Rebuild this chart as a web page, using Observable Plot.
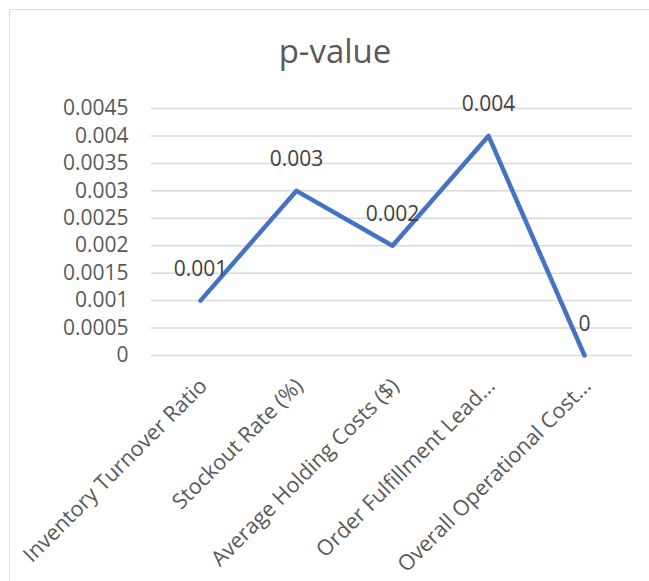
<!DOCTYPE html>
<html>
<head>
<meta charset="utf-8">
<script src="https://cdn.jsdelivr.net/npm/d3@7"></script>
<script src="https://cdn.jsdelivr.net/npm/@observablehq/plot@0.6"></script>
<style>
  html, body { margin: 0; padding: 0; background: #fff; overflow: hidden; }
  #wrap { position: relative; width: 649px; height: 581px; font-family: "Open Sans", sans-serif; }
  #border { position: absolute; left: 9px; top: 9px; width: 660px; height: 600px; border: 1.5px solid #d9d9d9; border-radius: 2px; box-sizing: border-box; }
  #title { position: absolute; left: 0; width: 670px; top: 30px; text-align: center; font-size: 33px; color: #595959; line-height: 42px; }
  #chart { position: absolute; left: 0; top: 0; }
</style>
</head>
<body>
<div id="wrap">
  <div id="border"></div>
  <div id="title">p-value</div>
  <div id="chart"></div>
</div>
<script>
const categories = [
  "Inventory Turnover Ratio",
  "Stockout Rate (%)",
  "Average Holding Costs ($)",
  "Order Fulfillment Lead...",
  "Overall Operational Cost..."
];
const pValues = [0.001, 0.003, 0.002, 0.004, 0];
const yTicks = [0, 0.0005, 0.001, 0.0015, 0.002, 0.0025, 0.003, 0.0035, 0.004, 0.0045];

const data = categories.map((c, i) => ({category: c, value: pValues[i]}));
const fmt = d => d3.format(".4~f")(d);

const chart = Plot.plot({
  width: 649,
  height: 581,
  marginLeft: 151,
  marginRight: 17,
  marginTop: 108,
  marginBottom: 226,
  style: {fontFamily: "Open Sans, sans-serif", fontSize: "21px", color: "#595959", background: "transparent", overflow: "visible"},
  x: {type: "point", domain: categories, padding: 0.5, axis: null},
  y: {domain: [0, 0.0045], ticks: yTicks, tickFormat: fmt, tickSize: 0, tickPadding: 23, label: null},
  marks: [
    Plot.gridY(yTicks, {stroke: "#d9d9d9", strokeOpacity: 1, strokeWidth: 1.5}),
    Plot.axisY({ticks: yTicks, tickFormat: fmt, tickSize: 0, tickPadding: 23, label: null, fontSize: 21, fill: "#595959"}),
    Plot.line(data, {x: "category", y: "value", stroke: "#4472C4", strokeWidth: 4.5, strokeLinecap: "round", strokeLinejoin: "round"}),
    Plot.text(data, {x: "category", y: "value", text: d => fmt(d.value), dy: -25, lineAnchor: "bottom", fill: "#404040", fontSize: 21}),
    Plot.text(data, {x: "category", y: () => 0, text: "category", rotate: -45, textAnchor: "end", lineAnchor: "top", dx: -3, dy: 21, fill: "#595959", fontSize: 21.5})
  ]
});
document.getElementById("chart").appendChild(chart);
</script>
</body>
</html>
